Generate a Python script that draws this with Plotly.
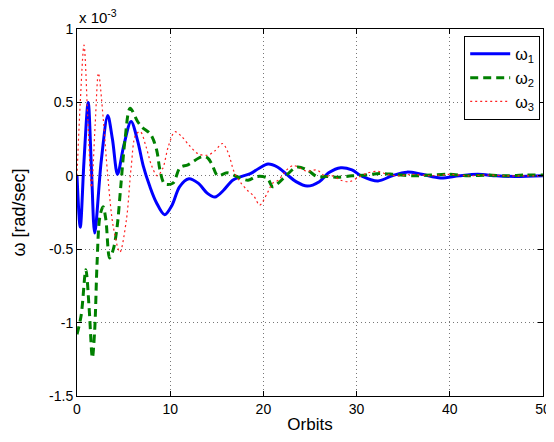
import plotly.graph_objects as go

# values in units of 1e-3 rad/sec
w1_orbit = [0, 0.35, 0.75, 1.2, 1.55, 1.9, 2.6, 3.3, 3.8, 4.35, 5.0, 5.8, 6.5, 7.1, 7.8, 8.5, 9.4,
            10.2, 11.0, 12.0, 13.0, 14.0, 14.8, 15.7, 16.7, 17.6, 18.6, 19.5, 20.5, 21.5, 22.5,
            23.5, 24.7, 26.0, 27.0, 28.3, 29.5, 30.5, 32.3, 33.8, 35.4, 37.0, 39.0, 41.0, 43.0,
            45.0, 47.0, 50.0]
w1_value = [0, -0.35, 0.1, 0.5, 0.05, -0.39, 0.1, 0.41, 0.25, 0.01, 0.2, 0.37, 0.24, 0.07, -0.07,
            -0.18, -0.265, -0.2, -0.075, -0.02, -0.05, -0.12, -0.145, -0.1, -0.03, -0.005, 0.015,
            0.05, 0.08, 0.06, 0.01, -0.04, -0.07, -0.04, 0.02, 0.055, 0.04, 0.0, -0.035, 0.0,
            0.025, 0.01, -0.015, 0.0, 0.01, 0.0, -0.005, 0.0]

w2_orbit = [0, 0.45, 0.95, 1.3, 1.65, 1.9, 2.15, 2.45, 2.8, 3.1, 3.5, 3.9, 4.3, 4.7, 5.15, 5.7,
            6.5, 7.0, 7.8, 8.2, 8.6, 8.9, 9.4, 10.3, 11.05, 11.9, 13.4, 14.05, 14.5, 15.1, 16.1,
            17.0, 17.5, 18.35, 19.3, 20.4, 21.0, 21.6, 22.5, 23.6, 24.7, 25.75, 26.8, 28.0, 29.5,
            31.0, 32.5, 34.0, 36.0, 38.0, 40.0, 42.0, 44.0, 46.0, 48.0, 50.0]
w2_value = [-1.08, -0.95, -0.64, -0.9, -1.24, -1.05, -0.6, -0.28, -0.21, -0.3, -0.56, -0.5,
            -0.35, -0.07, 0.245, 0.46, 0.37, 0.33, 0.29, 0.245, 0.16, 0.04, -0.055, -0.05, 0.055,
            0.075, 0.13, 0.12, 0.075, 0.0, 0.02, 0.0, -0.015, -0.03, -0.005, -0.015, -0.075,
            -0.05, 0.005, 0.06, 0.04, -0.005, -0.005, -0.01, 0.0, 0.005, 0.015, 0.01, 0.0, 0.005,
            0.01, 0.0, 0.005, 0.0, 0.005, 0.005]

w3_orbit = [0, 0.35, 0.75, 1.15, 1.55, 1.95, 2.3, 2.8, 3.3, 3.9, 4.6, 5.3, 5.8, 6.3, 6.8, 7.4,
            8.0, 8.6, 9.2, 9.8, 10.5, 11.2, 12.0, 13.0, 14.0, 14.8, 15.6, 16.2, 16.9, 17.6, 18.3,
            19.0, 19.6, 20.4, 21.0, 21.6, 22.5, 23.2, 24.0, 24.7, 25.7, 26.6, 27.4, 28.3, 29.2,
            30.2, 31.2, 32.3, 33.3, 34.5, 36.0, 38.0, 40.0, 42.0, 44.0, 46.0, 48.0, 50.0]
w3_value = [0, 0.5, 0.89, 0.4, -0.08, 0.35, 0.70, 0.4, 0.0, -0.35, -0.52, -0.3, 0.05, 0.28, 0.30,
            0.2, 0.07, 0.0, 0.05, 0.2, 0.30, 0.27, 0.21, 0.15, 0.14, 0.17, 0.22, 0.16, 0.02,
            -0.05, -0.1, -0.14, -0.2, -0.12, -0.05, -0.03, 0.04, 0.07, 0.05, 0.03, 0.04, 0.0,
            0.0, -0.03, -0.04, -0.01, 0.02, 0.03, 0.01, 0.0, 0.01, 0.0, 0.01, 0.0, 0.005, 0.0,
            0.0, 0.0]

y_ticks = [1, 0.5, 0, -0.5, -1, -1.5]
y_tick_labels = ["1", "0.5", "0", "-0.5", "-1", "-1.5"]
x_ticks = [0, 10, 20, 30, 40, 50]

FONT = "Liberation Sans, Arial, Helvetica, sans-serif"

fig = go.Figure()
fig.add_trace(go.Scatter(x=w1_orbit, y=w1_value, mode="lines", name="ω<sub>1</sub>",
                         line=dict(color="#0000ff", width=3, shape="spline", smoothing=0.9)))
fig.add_trace(go.Scatter(x=w2_orbit, y=w2_value, mode="lines", name="ω<sub>2</sub>",
                         line=dict(color="#008000", width=3, dash="8px,5px", shape="spline", smoothing=0.9)))
fig.add_trace(go.Scatter(x=w3_orbit, y=w3_value, mode="lines", name="ω<sub>3</sub>",
                         line=dict(color="#ff2020", width=1.2, dash="2px,3px", shape="spline", smoothing=0.9)))

axis_common = dict(showline=True, linecolor="black", linewidth=1, mirror="allticks",
                   ticks="inside", ticklen=5, tickcolor="black", showgrid=True,
                   gridcolor="#777777", griddash="1px,3px", gridwidth=1, zeroline=False,
                   automargin=False,
                   tickfont=dict(family=FONT, size=14, color="black"))

# the page body has an 8px margin, so the figure is sized to fit inside the window
fig.update_layout(
    width=546, height=434,
    margin=dict(l=69, r=11, t=21, b=46, autoexpand=False),
    paper_bgcolor="white", plot_bgcolor="white",
    font=dict(family=FONT, color="black"),
    xaxis=dict(range=[0, 50], tickvals=x_ticks,
               title=dict(text="Orbits", font=dict(family=FONT, size=17), standoff=2),
               **axis_common),
    yaxis=dict(range=[-1.5, 1], tickvals=y_ticks, ticktext=y_tick_labels,
               title=dict(text="ω [rad/sec]", font=dict(family=FONT, size=18), standoff=18),
               **axis_common),
    legend=dict(x=0.994, y=0.981, xanchor="right", yanchor="top",
                bgcolor="white", bordercolor="black", borderwidth=1,
                font=dict(family=FONT, size=16), tracegroupgap=0, itemwidth=40),
    showlegend=True,
)
fig.add_annotation(text="x 10<sup>-3</sup>", xref="paper", yref="paper", x=0.0, y=1.0,
                   xanchor="left", yanchor="bottom", showarrow=False, yshift=1,
                   font=dict(family=FONT, size=15, color="black"))

fig.write_html("out.html")
